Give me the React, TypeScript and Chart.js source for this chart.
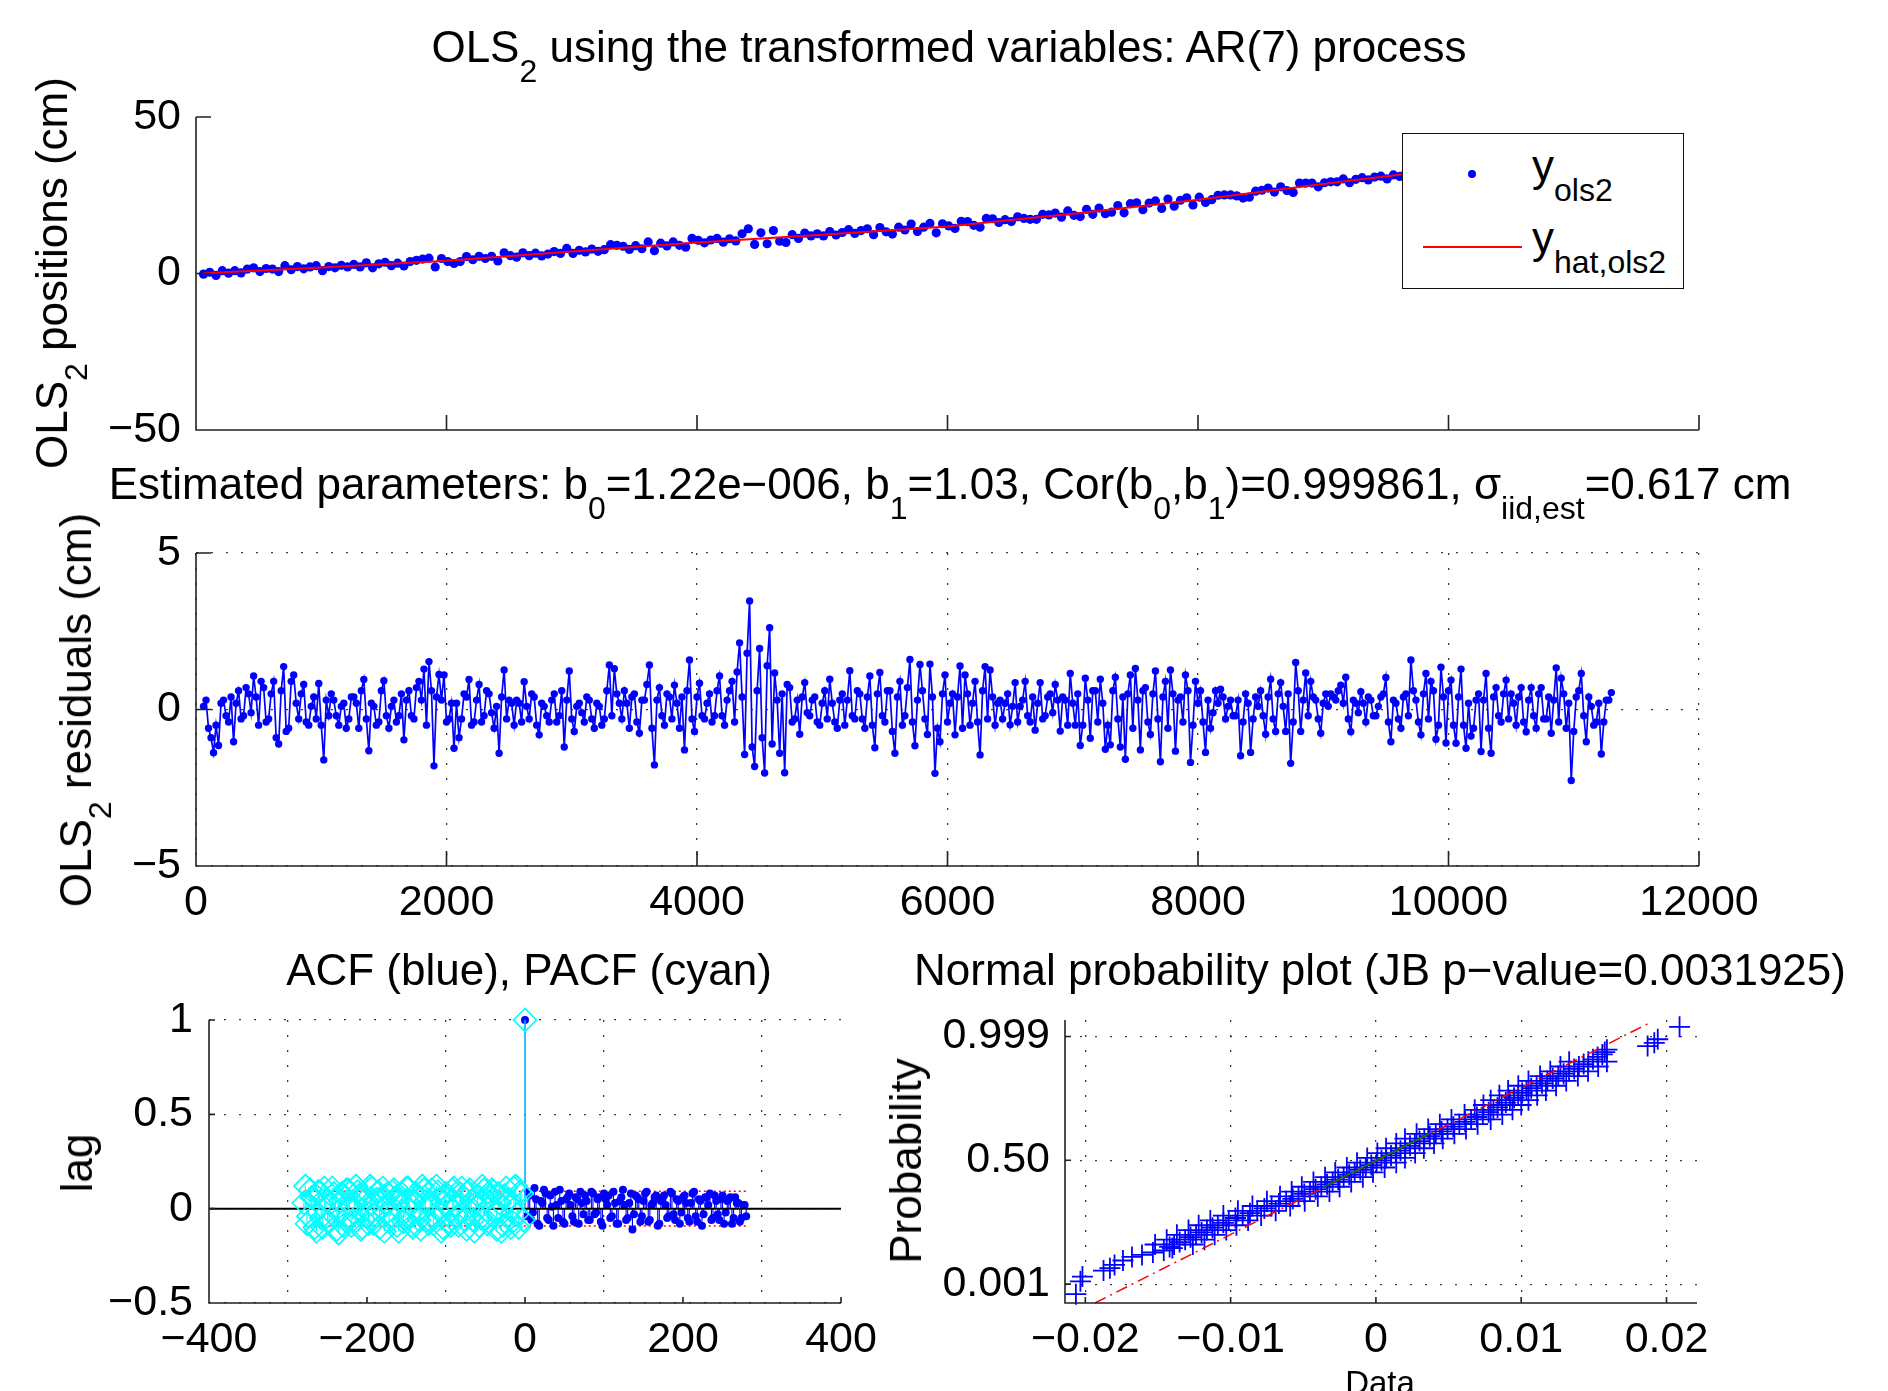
import React, { useEffect, useRef } from "react";
import { Chart, registerables } from "chart.js";

Chart.register(...registerables);

const W = 1888;
const H = 1391;
const FONT = '"Liberation Sans", Arial, Helvetica, sans-serif';
const MINUS = "\u2212";
const BLUE = "#0000ff";
const RED = "#ff0000";
const CYAN = "#00ffff";
const GREEN = "#008000";

// ---------------- data ----------------
// residual series (cm): two interleaved samplings, A at RESID_START + i*RESID_STEP, B half a step later
const RESID_START = 60;
const RESID_STEP = 40;
const residualsA = [
  0.1, -0.6, -1.38, -1.15, 0.3, -0.4, -1.03, 0.6, -0.2, 0.5, 1.07, -0.5, 0.7, -0.3, 0.9, -1.1, 1.37, -0.6, 1.1, -0.3, 0.8, -0.5, 0.4, 0.83, -1.61,
  -0.2, 0.3, -0.5, 0.2, -0.3, 0.4, -0.6, 0.96, -1.32, 0.1, -0.4, 0.92, -0.6, 0.3, -0.2, -0.97, 0.6, -0.3, 0.9, 1.29, 1.53, -1.8, 1.12, 1.1, -0.3,
  -1.24, -0.9, 0.5, 0.96, -0.4, 0.8, -0.2, 0.5, -0.6, -1.4, 1.26, 0.3, -0.5, 0.2, 0.89, -0.3, 0.4, -0.81, 0.1, -0.4, 0.5, -0.2, -1.2, 1.23, -0.7,
  0.2, -0.4, 0.3, -0.6, 0.1, -0.3, 1.42, 1.3, 0.2, 0.6, -0.6, 0.5, -0.76, 0.3, 1.42, -1.77, 0.7, -0.5, 0.4, 0.78, -0.6, -1.29, 1.58, -0.7, 0.84,
  -0.3, 0.5, -0.2, 1.07, -0.5, 0.6, -0.4, 2.13, -1.44, 3.47, -1.82, 1.95, -2.03, 2.61, 1.17, -1.4, -2.02, 0.7, -0.3, -0.79, 0.86, -0.2, 0.4, -0.5, 0.6,
  0.97, -0.4, 0.3, -0.5, 1.24, -0.3, 0.5, -0.6, 1.07, -1.22, 1.18, -0.4, 0.6, -1.4, 0.9, -0.2, 1.6, -1.16, 1.44, -0.3, 1.45, -2.04, -1.03, 1.1, 0.2,
  -0.81, 1.39, 1.1, -0.5, 0.9, -1.45, 1.37, 1.26, -0.5, 0.3, 0.2, -0.49, 0.86, 0.1, 0.9, -0.4, -0.66, 0.86, -0.2, 0.5, 0.8, -0.69, 0.3, 1.15, -0.5,
  -1.15, 1.0, -0.92, 0.6, 0.97, -1.27, -1.13, 1.03, -1.2, -1.59, 1.1, 1.31, -1.29, 0.7, -0.8, 1.23, -1.67, 0.9, 1.26, -1.33, 0.4, 1.1, -1.69, 0.9, 0.6,
  -1.37, -0.6, 0.6, 0.65, -0.3, 0.3, -0.2, -1.48, 0.5, -1.37, 0.4, 0.6, -0.79, 0.97, -0.7, 0.86, -0.7, -1.72, 1.5, -0.7, 1.17, 0.9, 0.3, -0.76, 0.5,
  0.5, 0.3, 0.78, 1.03, -0.71, 0.2, 0.57, -0.4, 0.3, -0.2, 0.4, 1.02, -1.03, 0.2, -0.6, 0.5, 1.58, 0.3, -0.81, 1.15, 0.9, -0.95, 1.35, -1.07, 0.94,
  -1.08, 1.29, -1.24, -0.85, 0.3, -1.34, 1.15, -1.4, 0.7, -0.4, 0.94, 0.5, -0.5, 0.7, -0.71, 0.7, -0.6, 0.7, -0.3, -0.76, 1.33, 1.0, -0.6, -2.27, 0.4,
  1.15, -1.03, 0.1, -0.4, -1.42, 0.3, 0.54,
];
const residualsB = [
  0.3, -0.9, -0.5, 0.2, -0.2, 0.4, 0.2, -0.3, 0.7, -0.1, 0.4, 0.9, -0.4, 0.5, -0.9, 0.6, -0.7, 0.9, 0.2, 0.5, -0.4, 0.1, -0.3, -0.5, 0.3,
  0.5, -0.2, 0.1, -0.6, 0.4, 0.2, 0.6, -0.3, 0.2, -0.5, 0.6, -0.2, 0.1, -0.4, 0.5, 0.3, -0.2, 0.7, 0.3, -0.5, 0.6, 0.4, 0.3, -0.4, 0.2,
  0.2, -0.3, 0.4, -0.5, 0.3, -0.4, 0.6, -0.1, 0.1, 0.4, -0.3, 0.2, 0.3, -0.4, 0.1, 0.5, -0.5, 0.2, -0.2, 0.3, -0.4, 0.6, 0.3, -0.3, 0.1,
  -0.1, 0.4, -0.3, 0.2, -0.5, 0.6, -0.2, 0.5, -0.3, 0.2, 0.4, -0.4, 0.3, 0.8, -0.6, 0.3, -0.2, 0.5, -0.3, 0.2, 0.4, 0.6, -0.3, 0.4, -0.2,
  0.2, -0.4, 0.6, -0.2, 0.3, 0.9, 1.2, 0.4, 1.8, -1.2, 0.6, -0.9, 1.4, -1.1, 0.3, 0.5, 0.8, -0.4, 0.3, 0.4, -0.1, 0.3, -0.4, 0.2, -0.3,
  0.2, -0.6, 0.5, 0.3, -0.2, 0.6, -0.3, 0.4, -0.5, 0.5, -0.2, 0.6, -0.7, 0.4, -0.5, 0.7, -0.4, 0.3, 0.6, -0.8, 0.4, -0.6, 0.5, -0.4, 0.5,
  0.4, -0.6, 0.5, 0.2, -0.4, 0.6, -0.3, 0.4, 0.2, -0.3, 0.5, 0.1, -0.4, 0.3, -0.2, 0.4, 0.2, -0.3, 0.4, -0.1, 0.3, 0.4, -0.5, 0.2, 0.5,
  -0.5, 0.3, 0.6, -0.4, 0.2, -0.5, 0.6, -0.3, 0.4, 0.5, -0.6, 0.3, 0.6, -0.4, 0.5, -0.3, 0.4, -0.6, 0.5, 0.3, -0.4, 0.6, -0.5, 0.2, -0.4,
  0.3, -0.1, 0.2, 0.4, 0.1, -0.2, 0.3, -0.4, 0.2, -0.3, 0.1, -0.2, 0.4, -0.3, 0.5, 0.1, 0.5, -0.4, 0.6, 0.3, -0.2, 0.4, -0.3, 0.2, 0.1,
  0.4, 0.6, 0.2, -0.3, 0.3, -0.1, 0.2, 0.4, -0.2, 0.1, 0.5, -0.4, 0.3, -0.3, 0.4, -0.2, 0.6, -0.4, 0.5, -0.3, 0.6, -0.5, 0.4, 0.6, -0.5,
  0.4, -0.5, 0.2, -0.6, 0.5, 0.3, -0.6, 0.4, -0.2, 0.5, -0.3, 0.2, 0.4, -0.4, 0.3, -0.2, 0.5, -0.3, 0.4, 0.3, -0.4, 0.5, 0.2, -0.7, 0.6,
  -0.2, 0.4, -0.5, 0.2, -0.4, 0.3,
];

// observed positions y_ols2 (cm), sampled every POS_STEP time units from POS_START
const POS_START = 60;
const POS_STEP = 50;
const positions = [
  -0.2, 0.4, -0.6, 0.9, 0.1, 0.9, 0.2, 1.4, 1.8, 0.6, 1.6, 1.4, 0.6, 2.5, 1.2, 2.2, 1.5, 2.1, 2.5, 0.9,
  2.2, 1.8, 2.6, 2.1, 2.9, 2.1, 3.4, 1.8, 3.1, 3.6, 2.5, 3.3, 2.4, 3.8, 4.2, 4.6, 4.9, 2.1, 4.8, 3.8,
  3.2, 3.8, 5.4, 4.4, 5.5, 4.8, 5.5, 4.0, 6.6, 5.7, 5.2, 6.6, 5.7, 6.5, 5.6, 6.2, 7.0, 6.4, 8.0, 6.4,
  7.4, 6.9, 7.8, 7.1, 7.6, 9.2, 9.0, 8.7, 7.7, 8.9, 7.9, 10.1, 7.3, 9.7, 8.8, 10.1, 9.0, 8.4, 11.2, 10.6,
  9.8, 10.7, 11.2, 10.0, 11.1, 10.4, 12.7, 14.3, 9.3, 13.0, 9.5, 13.7, 10.3, 9.9, 12.4, 11.2, 12.9, 12.0, 12.7, 12.0,
  13.4, 12.3, 13.1, 14.0, 12.8, 13.7, 14.3, 12.4, 14.7, 13.3, 12.6, 14.8, 13.9, 15.8, 13.4, 14.8, 16.0, 13.0, 15.9, 15.2,
  14.4, 16.7, 16.6, 15.4, 14.8, 17.6, 17.5, 16.3, 17.2, 16.6, 18.1, 17.6, 17.3, 17.3, 18.9, 18.7, 19.3, 18.0, 20.0, 18.6,
  18.2, 20.5, 18.9, 20.9, 19.1, 19.6, 21.7, 19.4, 22.3, 22.6, 20.4, 22.5, 23.2, 20.8, 23.8, 21.5, 23.4, 24.2, 21.9, 24.4,
  22.7, 23.6, 25.0, 25.1, 25.1, 24.8, 24.1, 24.4, 26.3, 26.6, 27.3, 26.0, 27.7, 26.5, 25.9, 28.9, 28.9, 28.9, 27.7, 29.0,
  29.3, 29.3, 30.2, 29.0, 30.1, 30.6, 29.9, 30.8, 31.1, 30.2, 31.5, 31.0, 32.3, 33.4, 31.6, 33.5, 32.0, 34.2, 32.4, 34.3,
  32.8, 35.1, 33.1, 34.8, 33.5, 36.0, 34.0, 35.1, 36.5, 36.3, 35.8, 35.8, 37.2, 36.4, 37.7, 36.7, 38.8, 38.7, 36.1, 38.6,
  39.6, 37.9, 39.2, 38.1, 39.9, 40.3,
];

// fitted line y_hat,ols2
const fitX = [60, 1000, 2000, 3000, 4000, 5000, 6000, 7000, 8000, 9000, 10000, 11000, 11300];
const fitY = [0.1, 1.9, 4.1, 7.0, 9.9, 12.4, 15.0, 19.1, 23.6, 28.6, 33.5, 38.3, 39.8];

const timeTicks = [0, 2000, 4000, 6000, 8000, 10000, 12000];
const posTicks = [-50, 0, 50];
const residTicks = [-5, 0, 5];

// ACF (positive lags) and PACF (negative lags); A at lags 4,8,..., B at lags 2,6,...
const LAG_STEP = 4;
const acfValuesA = [
  0.09, -0.06, 0.11, -0.08, 0.04, 0.1, -0.05, 0.07, -0.09, 0.02, 0.1, -0.07, 0.05, 0.08, -0.04, 0.06, -0.08, 0.03, 0.07, -0.06,
  0.09, -0.03, 0.05, -0.07, 0.08, 0.02, -0.05, 0.09, -0.08, 0.04, 0.1, -0.06, 0.03, -0.11, 0.07, 0.05, -0.04, 0.08, -0.07, 0.02,
  0.06, -0.09, 0.04, 0.07, -0.05, 0.09, -0.03, 0.05, -0.08, 0.06, 0.03, -0.07, 0.08, -0.04, 0.05, -0.09, 0.06, 0.02, -0.06, 0.07,
  -0.03, 0.05, -0.08, 0.04, 0.06, -0.05, 0.03, -0.07, 0.02, -0.04,
];
const acfValuesB = [
  -0.04, 0.07, -0.02, 0.05, -0.09, 0.03, 0.08, -0.06, 0.01, 0.09, -0.05, 0.04, -0.08, 0.06, 0.02, -0.07, 0.05, 0.09, -0.03, 0.04,
  -0.06, 0.08, -0.02, 0.06, -0.09, 0.05, 0.07, -0.04, 0.03, -0.08, 0.06, 0.02, -0.05, 0.08, -0.03, 0.06, -0.07, 0.04, 0.09, -0.06,
  0.03, 0.07, -0.08, 0.05, 0.02, -0.04, 0.08, -0.06, 0.04, -0.02, 0.07, -0.05, 0.03, 0.09, -0.07, 0.04, -0.03, 0.06, 0.08, -0.05,
  0.04, -0.06, 0.07, -0.02, 0.05, -0.08, 0.06, 0.03, -0.05, 0.02,
];
const pacfValuesA = [
  0.08, -0.1, 0.12, -0.07, 0.05, 0.11, -0.09, 0.03, -0.11, 0.09, 0.06, -0.08, 0.1, -0.05, 0.07, -0.12, 0.04, 0.09, -0.06, 0.11,
  -0.09, 0.02, 0.1, -0.07, 0.08, -0.1, 0.05, 0.12, -0.08, 0.03, -0.06, 0.1, -0.11, 0.07, 0.04, -0.09, 0.11, -0.05, 0.08, -0.12,
  0.06, 0.09, -0.07, 0.02, 0.11, -0.1, 0.05, -0.08, 0.12, -0.04, 0.07, -0.11, 0.09, 0.03, -0.09, 0.1, -0.06, 0.08, -0.13, 0.05,
  0.11, -0.07, 0.04, -0.1, 0.09, -0.12, 0.06, 0.1, -0.08, 0.03,
];
const pacfValuesB = [
  -0.06, 0.09, -0.03, 0.11, -0.1, 0.04, 0.07, -0.12, 0.08, -0.02, 0.1, -0.07, 0.05, 0.12, -0.09, 0.03, -0.06, 0.1, -0.11, 0.06,
  0.08, -0.04, 0.11, -0.09, 0.02, 0.07, -0.12, 0.09, -0.05, 0.1, -0.08, 0.04, 0.12, -0.06, 0.08, -0.1, 0.03, 0.11, -0.07, 0.05,
  -0.09, 0.1, -0.04, 0.08, -0.12, 0.06, 0.09, -0.03, 0.11, -0.08, 0.05, -0.1, 0.07, 0.12, -0.06, 0.02, 0.1, -0.09, 0.04, -0.11,
  0.08, 0.03, -0.07, 0.11, -0.05, 0.09, -0.1, 0.06, -0.04, 0.12,
];
const lagZeroValue = 1;
const confBound = 0.092;
const confLags = [-280, 280];
const zeroLineLags = [-400, 400];
const lagTicks = [-400, -200, 0, 200, 400];
const corrTicks = [-0.5, 0, 0.5, 1];

// normal probability plot: data value vs normal quantile (band centre)
const normQ = [
  -3.34, -3.02, -2.9, -2.75, -2.69, -2.61, -2.5, -2.41, -2.36, -2.3, -2.25, -2.19,
  -2.16, -2.1, -2.04, -1.98, -1.92, -1.86, -1.8, -1.74, -1.68, -1.62, -1.56, -1.5, -1.44, -1.38, -1.32, -1.26, -1.2, -1.14, -1.08, -1.02,
  -0.96, -0.9, -0.84, -0.78, -0.72, -0.66, -0.6, -0.54, -0.48, -0.42, -0.36, -0.3, -0.24, -0.18, -0.12, -0.06, 0.0, 0.06, 0.12, 0.18,
  0.24, 0.3, 0.36, 0.42, 0.48, 0.54, 0.6, 0.66, 0.72, 0.78, 0.84, 0.9, 0.96, 1.02, 1.08, 1.14, 1.2, 1.26, 1.32, 1.38,
  1.44, 1.5, 1.56, 1.62, 1.68, 1.74, 1.8, 1.86, 1.92, 1.98, 2.04, 2.1, 2.16, 2.22, 2.28, 2.34, 2.4, 2.46, 2.52, 2.58, 2.64,
  2.7, 2.76, 2.85, 2.93, 3.02, 3.33,
];
const normX = [
  -0.02065, -0.02034, -0.0202, -0.01875, -0.01831, -0.01799, -0.01741, -0.01679, -0.0161, -0.01535, -0.0146, -0.01401,
  -0.0142, -0.01389, -0.01351, -0.01313, -0.01276, -0.01238, -0.012, -0.01163, -0.01125, -0.01088, -0.0105, -0.01013, -0.00967, -0.00917,
  -0.00867, -0.00817, -0.00768, -0.00718, -0.00668, -0.00618, -0.00572, -0.00533, -0.00493, -0.00454, -0.00415, -0.00376, -0.00336,
  -0.00298, -0.0026, -0.00222, -0.00184, -0.00146, -0.00108, -0.0007, -0.00032, 0.00005, 0.00038, 0.00071, 0.00104, 0.00137, 0.00169,
  0.00202, 0.00235, 0.00268, 0.003, 0.00333, 0.00371, 0.00412, 0.00452, 0.00493, 0.00533, 0.00574, 0.00614, 0.00655, 0.00695, 0.00736,
  0.00776, 0.00809, 0.00837, 0.00866, 0.00894, 0.00922, 0.00951, 0.00979, 0.01007, 0.01036, 0.01069, 0.01106, 0.01143, 0.0118, 0.01217,
  0.01255, 0.01292, 0.01329, 0.01365, 0.01397, 0.0143, 0.01462, 0.01494, 0.01526, 0.01558,
  0.01575, 0.0159, 0.0187, 0.01916, 0.0194, 0.0209,
];
// band edges of the dense middle part of the probability plot
const edgeQ = [
  -2.1, -1.98, -1.86, -1.74, -1.62, -1.5, -1.38, -1.26, -1.14, -1.02, -0.9, -0.78, -0.66, -0.54, -0.42, -0.3, -0.18, -0.06, 0.06, 0.18,
  0.3, 0.42, 0.54, 0.66, 0.78, 0.9, 1.02, 1.14, 1.26, 1.38, 1.5, 1.62, 1.74, 1.86, 1.98, 2.1, 2.22, 2.34, 2.46,
];
const edgeLeftX = [
  -0.0152, -0.0144, -0.0137, -0.0129, -0.0122, -0.0114, -0.0105, -0.0095, -0.0085, -0.0075, -0.0066, -0.0058, -0.0051, -0.0043, -0.0035,
  -0.0028, -0.002, -0.0013, -0.0006, 0.0001, 0.0007, 0.0014, 0.002, 0.0028, 0.0036, 0.0044, 0.0052, 0.0061, 0.0068, 0.0074, 0.0079,
  0.0085, 0.0091, 0.0098, 0.0105, 0.0113, 0.012, 0.0127, 0.0133,
];
const edgeRightX = [
  -0.0126, -0.0118, -0.0111, -0.0103, -0.0096, -0.0088, -0.0079, -0.0069, -0.0059, -0.0049, -0.004, -0.0032, -0.0025, -0.0017, -0.0009,
  -0.0002, 0.0006, 0.0014, 0.002, 0.0027, 0.0033, 0.004, 0.0046, 0.0054, 0.0062, 0.007, 0.0079, 0.0087, 0.0094, 0.01, 0.0105, 0.0111,
  0.0117, 0.0124, 0.0131, 0.0139, 0.0146, 0.0153, 0.0159,
];
const refLineX = [-0.01934, 0.01879];
const refLineQ = [-3.56, 3.42];
const quartLineX = [-0.00365, 0.00372];
const quartLineQ = [-0.674, 0.674];
const dataTicks = [-0.02, -0.01, 0, 0.01, 0.02];
const probTickQ = [-3.09, 0, 3.09];
const probTickLabels = ["0.001", "0.50", "0.999"];

// ---------------- layout ----------------
const F1 = { l: 196, t: 117, r: 1699, b: 430 };
const F2 = { l: 196, t: 553, r: 1699, b: 866 };
const F3 = { l: 209, t: 1020, r: 841, b: 1303 };
const F4 = { l: 1065, t: 1020, r: 1697, b: 1303 };

const TICK_FONT = { family: FONT, size: 43 };
const fmtMinus = (v: number) => String(v).replace("-", MINUS);

const matlabAxes = {
  id: "matlabAxes",
  afterDatasetsDraw(chart: any, _args: any, opts: any) {
    const { ctx, chartArea: a, scales } = chart;
    const len = opts.tickLen || 10;
    ctx.save();
    ctx.setLineDash([]);
    ctx.strokeStyle = "#222";
    ctx.lineWidth = 1.6;
    ctx.beginPath();
    ctx.moveTo(a.left, a.top);
    ctx.lineTo(a.left, a.bottom);
    ctx.lineTo(a.right, a.bottom);
    for (const t of scales.x.ticks) {
      const px = scales.x.getPixelForValue(t.value);
      ctx.moveTo(px, a.bottom);
      ctx.lineTo(px, a.bottom - len);
    }
    for (const t of scales.y.ticks) {
      const py = scales.y.getPixelForValue(t.value);
      ctx.moveTo(a.left, py);
      ctx.lineTo(a.left + len, py);
    }
    ctx.stroke();
    ctx.restore();
  },
};

function axis(
  min: number,
  max: number,
  ticks: number[],
  boxSize: number,
  horizontal: boolean,
  o: { labels?: boolean; grid?: boolean; padding?: number; fmt?: (v: number) => string }
) {
  const fmt = o.fmt || fmtMinus;
  return {
    type: "linear",
    min,
    max,
    offset: false,
    afterFit: (s: any) => {
      if (horizontal) s.height = boxSize;
      else s.width = boxSize;
    },
    afterBuildTicks: (s: any) => {
      s.ticks = ticks.map((v) => ({ value: v }));
    },
    ticks: {
      display: o.labels !== false,
      color: "#000",
      font: TICK_FONT,
      padding: o.padding ?? 11,
      autoSkip: false,
      maxRotation: 0,
      minRotation: 0,
      callback: (v: any) => fmt(Number(v)),
    },
    grid: { display: !!o.grid, drawTicks: false, color: "#3a3a3a", lineWidth: 1.3 },
    border: { display: false, dash: [2, 13] },
  };
}

function baseOptions(f: any, x: any, y: any, tickLen: number) {
  return {
    animation: false,
    responsive: false,
    events: [],
    layout: { padding: { left: 0, top: f.t, right: W - f.r, bottom: 0 } },
    plugins: {
      legend: { display: false },
      tooltip: { enabled: false },
      title: { display: false },
      matlabAxes: { tickLen },
    },
    scales: { x, y },
  };
}

function makePositions(c: HTMLCanvasElement) {
  return new Chart(c, {
    type: "scatter",
    data: {
      datasets: [
        {
          type: "line",
          data: fitX.map((x, i) => ({ x, y: fitY[i] })),
          borderColor: RED,
          borderWidth: 2,
          pointRadius: 0,
          showLine: true,
          clip: false,
          order: 0,
        },
        {
          type: "scatter",
          data: positions.map((y, i) => ({ x: POS_START + i * POS_STEP, y })),
          backgroundColor: BLUE,
          borderWidth: 0,
          pointRadius: 4.6,
          clip: false,
          order: 1,
        },
      ],
    } as any,
    options: baseOptions(
      F1,
      axis(0, 12000, timeTicks, H - F1.b, true, { labels: false }),
      axis(-50, 50, posTicks, F1.l, false, { padding: 15 }),
      15
    ) as any,
    plugins: [matlabAxes],
  });
}

function makeResiduals(c: HTMLCanvasElement) {
  const pts: { x: number; y: number }[] = [];
  residualsA.forEach((y, i) => {
    pts.push({ x: RESID_START + i * RESID_STEP, y });
    if (i < residualsB.length) pts.push({ x: RESID_START + i * RESID_STEP + RESID_STEP / 2, y: residualsB[i] });
  });
  return new Chart(c, {
    type: "line",
    data: {
      datasets: [
        {
          data: pts,
          borderColor: BLUE,
          borderWidth: 1.7,
          pointRadius: 3.7,
          pointBackgroundColor: BLUE,
          pointBorderWidth: 0,
          tension: 0,
          clip: false,
        },
      ],
    } as any,
    options: baseOptions(
      F2,
      axis(0, 12000, timeTicks, H - F2.b, true, { grid: true }),
      axis(-5, 5, residTicks, F2.l, false, { grid: true, padding: 15 }),
      15
    ) as any,
    plugins: [matlabAxes],
  });
}

function makeCorrelation(c: HTMLCanvasElement) {
  const acfPts = [
    { x: 0, y: lagZeroValue },
    ...acfValuesA.map((y, i) => ({ x: (i + 1) * LAG_STEP, y })),
    ...acfValuesB.map((y, i) => ({ x: (i + 1) * LAG_STEP - LAG_STEP / 2, y })),
  ];
  const pacfPts = [
    { x: 0, y: lagZeroValue },
    ...pacfValuesA.map((y, i) => ({ x: -(i + 1) * LAG_STEP, y })),
    ...pacfValuesB.map((y, i) => ({ x: -(i + 1) * LAG_STEP + LAG_STEP / 2, y })),
  ];
  return new Chart(c, {
    type: "scatter",
    data: {
      datasets: [
        {
          type: "line",
          data: confLags.map((x) => ({ x, y: confBound })),
          borderColor: RED,
          borderWidth: 1.5,
          borderDash: [2, 3],
          pointRadius: 0,
          showLine: true,
          order: 7,
        },
        {
          type: "line",
          data: confLags.map((x) => ({ x, y: -confBound })),
          borderColor: RED,
          borderWidth: 1.5,
          borderDash: [2, 3],
          pointRadius: 0,
          showLine: true,
          order: 6,
        },
        {
          type: "bar",
          data: acfPts,
          backgroundColor: BLUE,
          borderWidth: 0,
          grouped: false,
          maxBarThickness: 1.5,
          order: 5,
        },
        {
          type: "scatter",
          data: acfPts,
          backgroundColor: BLUE,
          borderWidth: 0,
          pointRadius: 4,
          clip: false,
          order: 4,
        },
        {
          type: "line",
          data: zeroLineLags.map((x) => ({ x, y: 0 })),
          borderColor: "#000",
          borderWidth: 2,
          pointRadius: 0,
          showLine: true,
          order: 3,
        },
        {
          type: "bar",
          data: pacfPts,
          backgroundColor: CYAN,
          borderWidth: 0,
          grouped: false,
          maxBarThickness: 1.5,
          order: 2,
        },
        {
          type: "scatter",
          data: pacfPts,
          pointStyle: "rectRot",
          pointRadius: 11.5,
          backgroundColor: "rgba(0,0,0,0)",
          borderColor: CYAN,
          borderWidth: 1.7,
          clip: false,
          order: 1,
        },
      ],
    } as any,
    options: baseOptions(
      F3,
      axis(-400, 400, lagTicks, H - F3.b, true, { grid: true }),
      axis(-0.5, 1, corrTicks, F3.l, false, { grid: true, padding: 16 }),
      6
    ) as any,
    plugins: [matlabAxes],
  });
}

function makeNormal(c: HTMLCanvasElement) {
  const crossStyle = {
    type: "scatter",
    pointStyle: "cross",
    pointRadius: 10.5,
    borderColor: BLUE,
    borderWidth: 1.8,
    clip: false,
  };
  return new Chart(c, {
    type: "scatter",
    data: {
      datasets: [
        {
          type: "line",
          data: quartLineX.map((x, i) => ({ x, y: quartLineQ[i] })),
          borderColor: GREEN,
          borderWidth: 1.5,
          pointRadius: 0,
          showLine: true,
          order: 0,
        },
        {
          type: "line",
          data: refLineX.map((x, i) => ({ x, y: refLineQ[i] })),
          borderColor: RED,
          borderWidth: 1.5,
          borderDash: [12, 5, 2, 5],
          pointRadius: 0,
          showLine: true,
          clip: false,
          order: 1,
        },
        { ...crossStyle, data: normX.map((x, i) => ({ x, y: normQ[i] })), order: 2 },
        { ...crossStyle, data: edgeLeftX.map((x, i) => ({ x, y: edgeQ[i] })), order: 3 },
        { ...crossStyle, data: edgeRightX.map((x, i) => ({ x, y: edgeQ[i] })), order: 4 },
      ],
    } as any,
    options: baseOptions(
      F4,
      axis(-0.0214, 0.0221, dataTicks, H - F4.b, true, { grid: true }),
      axis(-3.56, 3.5, probTickQ, F4.l, false, {
        grid: true,
        padding: 15,
        fmt: (v) => probTickLabels[probTickQ.indexOf(v)] ?? "",
      }),
      6
    ) as any,
    plugins: [matlabAxes],
  });
}

function ChartCanvas({ make }: { make: (c: HTMLCanvasElement) => Chart }) {
  const ref = useRef<HTMLCanvasElement | null>(null);
  useEffect(() => {
    const ch = make(ref.current as HTMLCanvasElement);
    return () => ch.destroy();
  }, []);
  return (
    <canvas
      ref={ref}
      width={W}
      height={H}
      style={{ position: "absolute", left: 0, top: 0, width: W, height: H }}
    />
  );
}

// ---------------- text helpers ----------------
const SUB_SIZE = 32;
const SUB_DROP = 20;

function Sub({ children }: { children: React.ReactNode }) {
  return (
    <span style={{ fontSize: SUB_SIZE, position: "relative", top: SUB_DROP, lineHeight: 0 }}>
      {children}
    </span>
  );
}

function Txt({
  x,
  y,
  size = 44,
  anchor = "middle",
  children,
}: {
  x: number;
  y: number;
  size?: number;
  anchor?: "middle" | "start";
  children: React.ReactNode;
}) {
  return (
    <div
      style={{
        position: "absolute",
        left: x,
        top: y - 0.8465 * size,
        fontSize: size,
        lineHeight: `${size}px`,
        whiteSpace: "nowrap",
        color: "#000",
        transform: anchor === "middle" ? "translateX(-50%)" : undefined,
      }}
    >
      {children}
    </div>
  );
}

function VTxt({ cx, cy, size = 44, children }: { cx: number; cy: number; size?: number; children: React.ReactNode }) {
  return (
    <div
      style={{
        position: "absolute",
        left: cx,
        top: cy,
        fontSize: size,
        lineHeight: `${size}px`,
        whiteSpace: "nowrap",
        color: "#000",
        transform: "translate(-50%, -50%) rotate(-90deg)",
      }}
    >
      {children}
    </div>
  );
}

export default function App() {
  useEffect(() => {
    document.body.style.margin = "0";
    document.body.style.overflow = "hidden";
  }, []);
  return (
    <div
      style={{
        position: "absolute",
        left: 0,
        top: 0,
        width: W,
        height: H,
        overflow: "hidden",
        background: "#fff",
        fontFamily: FONT,
      }}
    >
      <ChartCanvas make={makePositions} />
      <ChartCanvas make={makeResiduals} />
      <ChartCanvas make={makeCorrelation} />
      <ChartCanvas make={makeNormal} />

      {/* legend of the top panel */}
      <div
        style={{
          position: "absolute",
          left: 1402,
          top: 133,
          width: 282,
          height: 156,
          boxSizing: "border-box",
          border: "1.6px solid #111",
          background: "#fff",
        }}
      />
      <div
        style={{
          position: "absolute",
          left: 1468,
          top: 170,
          width: 8,
          height: 8,
          borderRadius: "50%",
          background: BLUE,
        }}
      />
      <div style={{ position: "absolute", left: 1423, top: 246, width: 99, height: 2, background: RED }} />
      <Txt x={1532} y={181} anchor="start">
        y<Sub>ols2</Sub>
      </Txt>
      <Txt x={1532} y={253} anchor="start">
        y<Sub>hat,ols2</Sub>
      </Txt>

      {/* titles */}
      <Txt x={949} y={62}>
        OLS<Sub>2</Sub> using the transformed variables: AR(7) process
      </Txt>
      <Txt x={950} y={499}>
        Estimated parameters: b<Sub>0</Sub>=1.22e{MINUS}006, b<Sub>1</Sub>=1.03, Cor(b<Sub>0</Sub>,b<Sub>1</Sub>)=0.999861, σ
        <Sub>iid,est</Sub>=0.617 cm
      </Txt>
      <Txt x={529} y={985}>
        ACF (blue), PACF (cyan)
      </Txt>
      <Txt x={1380} y={985}>
        Normal probability plot (JB p{MINUS}value=0.0031925)
      </Txt>

      {/* axis labels */}
      <VTxt cx={52} cy={273}>
        OLS<Sub>2</Sub> positions (cm)
      </VTxt>
      <VTxt cx={76} cy={710}>
        OLS<Sub>2</Sub> residuals (cm)
      </VTxt>
      <VTxt cx={77} cy={1163}>
        lag
      </VTxt>
      <VTxt cx={906} cy={1161}>
        Probability
      </VTxt>
      <Txt x={1380} y={1394} size={33}>
        Data
      </Txt>
    </div>
  );
}
